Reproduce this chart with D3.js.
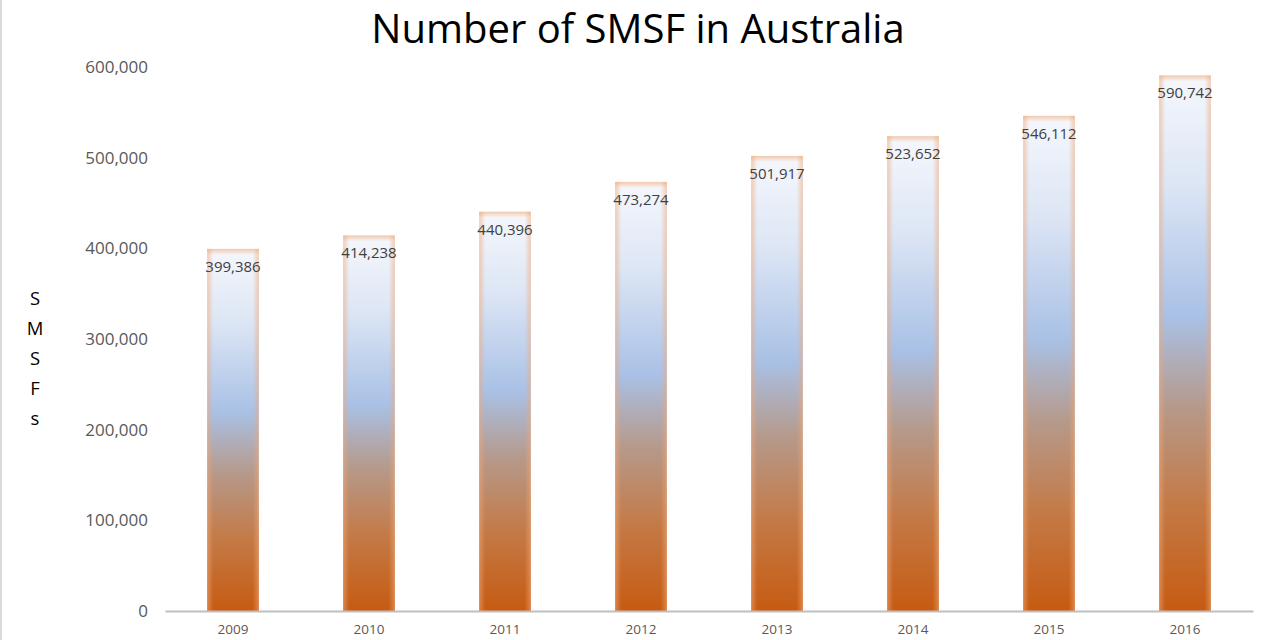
<!DOCTYPE html>
<html><head><meta charset="utf-8">
<script src="https://cdn.jsdelivr.net/npm/d3@7"></script>
<style>
html,body{margin:0;padding:0;background:#fff;}
svg{display:block;font-family:"Open Sans","Noto Sans",sans-serif;}
</style></head>
<body><svg id="c" width="1280" height="640"></svg>
<script>
const years = ["2009","2010","2011","2012","2013","2014","2015","2016"];
const smsfCounts = [399386,414238,440396,473274,501917,523652,546112,590742];
const yTicks = [0,100000,200000,300000,400000,500000,600000];
const titleText = "Number of SMSF in Australia";
const yAxisTitle = "SMSFs";

const svg = d3.select("#c");
const W = 1280, H = 640;
svg.append("rect").attr("width",W).attr("height",H).attr("fill","#fff");
svg.append("line").attr("x1",1).attr("x2",1).attr("y1",0).attr("y2",H).attr("stroke","#d9d9d9").attr("stroke-width",2);

const x = d3.scaleBand().domain(years).range([165,1253]).paddingInner(0.62).paddingOuter(0.31);
const y = d3.scaleLinear().domain([0,600000]).range([611,67]);

const defs = svg.append("defs");
const g = defs.append("linearGradient").attr("id","barGrad").attr("x1",0).attr("y1",0).attr("x2",0).attr("y2",1);
[[0,"#f5f7fc"],[0.2,"#dde6f5"],[0.45,"#a9c1e6"],[0.62,"#b6998a"],[0.8,"#c47a47"],[1,"#c65b12"]]
  .forEach(([o,c])=>g.append("stop").attr("offset",o).attr("stop-color",c));
const hg = defs.append("linearGradient").attr("id","edgeGrad").attr("x1",0).attr("y1",0).attr("x2",1).attr("y2",0);
[[0,"#f0a878",0.55],[0.12,"#f0a878",0],[0.88,"#f0a878",0],[1,"#f0a878",0.55]]
  .forEach(([o,c,a])=>hg.append("stop").attr("offset",o).attr("stop-color",c).attr("stop-opacity",a));
const tg = defs.append("linearGradient").attr("id","topGrad").attr("x1",0).attr("y1",0).attr("x2",0).attr("y2",1);
[[0,"#f0a878",0.6],[1,"#f0a878",0]].forEach(([o,c,a])=>tg.append("stop").attr("offset",o).attr("stop-color",c).attr("stop-opacity",a));

const data = years.map((yr,i)=>({yr, v: smsfCounts[i]}));

const yAxis = d3.axisLeft(y).tickValues(yTicks).tickFormat(d3.format(",")).tickSize(0).tickPadding(0);
const ya = svg.append("g").attr("transform","translate(148,0)").call(yAxis);
ya.select(".domain").remove();
ya.selectAll("text").attr("font-size",17).attr("fill","#595959").attr("font-family","'Open Sans','Noto Sans',sans-serif");

const bars = svg.append("g");
bars.selectAll("rect.b").data(data).join("rect").attr("class","b")
  .attr("x",d=>x(d.yr)).attr("width",x.bandwidth())
  .attr("y",d=>y(d.v)).attr("height",d=>y(0)-y(d.v))
  .attr("fill","url(#barGrad)");
bars.selectAll("rect.e").data(data).join("rect").attr("class","e")
  .attr("x",d=>x(d.yr)).attr("width",x.bandwidth())
  .attr("y",d=>y(d.v)).attr("height",d=>y(0)-y(d.v))
  .attr("fill","url(#edgeGrad)");
bars.selectAll("rect.t").data(data).join("rect").attr("class","t")
  .attr("x",d=>x(d.yr)).attr("width",x.bandwidth())
  .attr("y",d=>y(d.v)).attr("height",6)
  .attr("fill","url(#topGrad)");

svg.append("g").selectAll("text").data(data).join("text")
  .attr("x",d=>x(d.yr)+x.bandwidth()/2).attr("y",d=>y(d.v)+23)
  .attr("text-anchor","middle").attr("font-size",15).attr("fill","#404040")
  .text(d=>d3.format(",")(d.v));

const xAxis = d3.axisBottom(x).tickSize(0).tickPadding(13);
const xa = svg.append("g").attr("transform","translate(0,611)").call(xAxis);
xa.select(".domain").attr("stroke","#bfbfbf").attr("stroke-width",2);
xa.selectAll("text").attr("font-size",13.5).attr("fill","#595959").attr("font-family","'Open Sans','Noto Sans',sans-serif");

svg.append("text").attr("x",638).attr("y",43).attr("text-anchor","middle")
  .attr("font-size",40).attr("fill","#000").text(titleText);

svg.append("g").selectAll("text").data(yAxisTitle.split("")).join("text")
  .attr("x",35).attr("y",(d,i)=>305+i*30).attr("text-anchor","middle")
  .attr("font-size",18.5).attr("fill","#000").text(d=>d);
</script></body></html>
